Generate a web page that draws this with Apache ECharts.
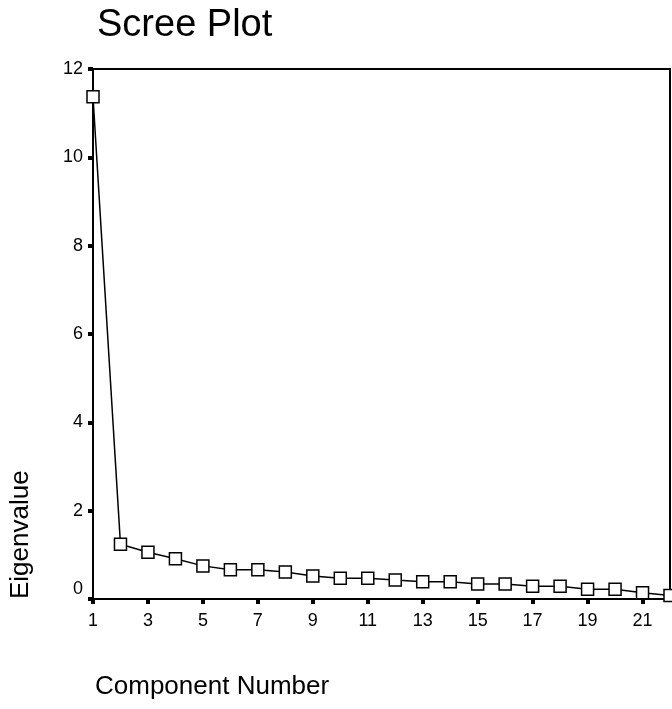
<!DOCTYPE html>
<html>
<head>
<meta charset="utf-8">
<script src="https://cdn.jsdelivr.net/npm/echarts@6/dist/echarts.min.js"></script>
<style>
html,body{margin:0;padding:0;background:#fff;}
#chart{width:672px;height:709px;}
</style>
</head>
<body>
<div id="chart"></div>
<script>
const titleText = "Scree Plot";
const xAxisTitle = "Component Number";
const yAxisTitle = "Eigenvalue";
const components = ["1","2","3","4","5","6","7","8","9","10","11","12","13","14","15","16","17","18","19","20","21","22"];
const eigenvalues = [11.37, 1.24, 1.06, 0.91, 0.75, 0.66, 0.66, 0.61, 0.52, 0.47, 0.47, 0.43, 0.39, 0.39, 0.34, 0.34, 0.29, 0.29, 0.22, 0.22, 0.14, 0.08];

const FONT = "'Liberation Sans', Arial, Helvetica, sans-serif";
const chart = echarts.init(document.getElementById('chart'), null, {renderer: 'canvas'});
chart.setOption({
  animation: false,
  backgroundColor: '#fff',
  title: {
    text: titleText,
    left: 92,
    top: 2,
    textStyle: {fontFamily: FONT, fontSize: 38, fontWeight: 'normal', color: '#000'}
  },
  grid: {
    left: 93, right: 2, top: 69, bottom: 110,
    show: true, borderColor: '#000', borderWidth: 2, backgroundColor: 'transparent'
  },
  xAxis: {
    type: 'category',
    data: components,
    boundaryGap: false,
    axisLine: {show: true, lineStyle: {color: '#000', width: 2}},
    axisTick: {show: true, interval: 1, length: 5, lineStyle: {color: '#000', width: 4}},
    axisLabel: {interval: 1, margin: 13, fontFamily: FONT, fontSize: 18, color: '#000'},
    splitLine: {show: false}
  },
  yAxis: {
    type: 'value',
    min: 0, max: 12, interval: 2,
    axisLine: {show: true, lineStyle: {color: '#000', width: 2}},
    axisTick: {show: true, length: 5, lineStyle: {color: '#000', width: 4}},
    axisLabel: {
      margin: 10, fontFamily: FONT, fontSize: 18, color: '#000',
      formatter: function (v) { return v === 0 ? '{low|0}' : String(v); },
      rich: {low: {fontFamily: FONT, fontSize: 18, color: '#000', padding: [0, 0, 20, 0]}}
    },
    splitLine: {show: false}
  },
  graphic: [
    {
      type: 'text', left: 95, top: 674,
      style: {text: xAxisTitle, font: '26px ' + FONT, fill: '#000'}
    },
    {
      type: 'text', x: 34, y: 599, rotation: Math.PI / 2,
      style: {text: yAxisTitle, font: '26px ' + FONT, fill: '#000', textAlign: 'left', textVerticalAlign: 'bottom'}
    }
  ],
  series: [{
    type: 'line',
    data: eigenvalues,
    symbol: 'rect',
    symbolSize: 12,
    showAllSymbol: true,
    clip: false,
    lineStyle: {color: '#000', width: 1.5},
    itemStyle: {color: '#fff', borderColor: '#000', borderWidth: 1.5}
  }]
});
</script>
</body>
</html>
